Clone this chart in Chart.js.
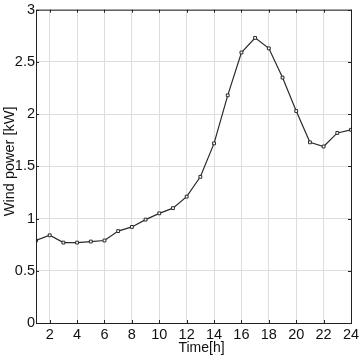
<!DOCTYPE html>
<html>
<head>
<meta charset="utf-8">
<script src="https://cdn.jsdelivr.net/npm/chart.js@4/dist/chart.umd.min.js"></script>
<style>
  html, body { margin: 0; padding: 0; background: #fff; }
  #wrap { width: 363px; height: 358px; }
</style>
</head>
<body>
<div id="wrap"><canvas id="chart"></canvas></div>
<script>
// hours and wind power (kW)
const hours = [1, 2, 3, 4, 5, 6, 7, 8, 9, 10, 11, 12, 13, 14, 15, 16, 17, 18, 19, 20, 21, 22, 23, 24];
const windPower = [0.79, 0.84, 0.77, 0.77, 0.78, 0.79, 0.88, 0.92, 0.99, 1.05, 1.10, 1.21,
                   1.40, 1.72, 2.18, 2.59, 2.73, 2.63, 2.35, 2.03, 1.73, 1.69, 1.82, 1.85];
const xTicks = [2, 4, 6, 8, 10, 12, 14, 16, 18, 20, 22, 24];
const yTicks = [0, 0.5, 1, 1.5, 2, 2.5, 3];
const xTitle = 'Time[h]';
const yTitle = 'Wind power [kW]';

// box around plot area with small inward ticks, plus the axis titles
const boxPlugin = {
    id: 'box',
    afterDraw(chart) {
        const { ctx, chartArea: a, scales } = chart;
        ctx.save();
        ctx.strokeStyle = '#222';
        ctx.lineWidth = 1;
        ctx.strokeRect(a.left + 0.5, a.top + 0.5, a.right - a.left, a.bottom - a.top);
        ctx.beginPath();
        xTicks.forEach(v => {
            const x = Math.round(scales.x.getPixelForValue(v)) + 0.5;
            ctx.moveTo(x, a.bottom); ctx.lineTo(x, a.bottom - 3);
            ctx.moveTo(x, a.top); ctx.lineTo(x, a.top + 3);
        });
        yTicks.forEach(v => {
            const y = Math.round(scales.y.getPixelForValue(v)) + 0.5;
            ctx.moveTo(a.left, y); ctx.lineTo(a.left + 3, y);
            ctx.moveTo(a.right, y); ctx.lineTo(a.right - 3, y);
        });
        ctx.stroke();

        // titles (the originals sit a little off-centre)
        ctx.fillStyle = '#111';
        ctx.font = '14px "Liberation Sans"';
        ctx.textAlign = 'center';
        ctx.textBaseline = 'middle';
        ctx.fillText(xTitle, (a.left + a.right) / 2 + 8, 348);
        ctx.translate(10, (a.top + a.bottom) / 2 - 5);
        ctx.rotate(-Math.PI / 2);
        ctx.font = '14.5px "Liberation Sans"';
        ctx.fillText(yTitle, 0, 0);
        ctx.restore();
    }
};

const tickFont = { family: 'Liberation Sans', size: 14.5 };

new Chart(document.getElementById('chart'), {
    type: 'line',
    data: {
        datasets: [{
            data: hours.map((h, i) => ({ x: h, y: windPower[i] })),
            borderColor: '#2a2a2a',
            borderWidth: 1.2,
            pointStyle: 'rect',
            pointRadius: 2,
            pointBackgroundColor: '#fff',
            pointBorderColor: '#2a2a2a',
            pointBorderWidth: 1,
            tension: 0
        }]
    },
    options: {
        responsive: true,
        maintainAspectRatio: false,
        animation: false,
        layout: { padding: { left: 0, right: 12, top: 9, bottom: 0 } },
        plugins: { legend: { display: false }, tooltip: { enabled: false } },
        scales: {
            x: {
                type: 'linear',
                min: 1,
                max: 24,
                afterBuildTicks: scale => { scale.ticks = xTicks.map(v => ({ value: v })); },
                afterFit: scale => { scale.height = 35; },
                grid: { color: '#dedede', drawTicks: false },
                border: { display: false },
                ticks: { color: '#111', font: tickFont, padding: 3, maxRotation: 0 }
            },
            y: {
                min: 0,
                max: 3,
                afterBuildTicks: scale => { scale.ticks = yTicks.map(v => ({ value: v })); },
                afterFit: scale => { scale.width = 36; },
                grid: { color: '#dedede', drawTicks: false },
                border: { display: false },
                ticks: { color: '#111', font: tickFont, padding: 1, callback: v => String(v) }
            }
        }
    },
    plugins: [boxPlugin]
});
</script>
</body>
</html>
